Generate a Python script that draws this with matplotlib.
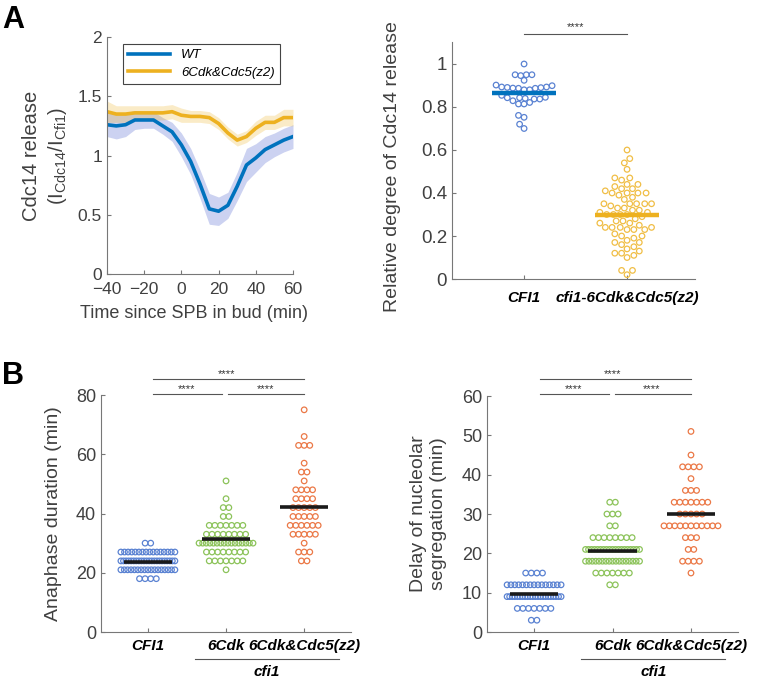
import numpy as np
import matplotlib.pyplot as plt

plt.rcParams['font.family'] = ['Liberation Sans', 'DejaVu Sans']
plt.rcParams['mathtext.fontset'] = 'custom'
plt.rcParams['mathtext.rm'] = 'Liberation Sans'
plt.rcParams['mathtext.it'] = 'Liberation Sans:italic'

# ---- panel A, left: Cdc14 release over time
time_min = [-40, -35, -30, -25, -20, -15, -10, -5, 0, 5, 10, 15, 20, 25, 30, 35, 40, 45, 50, 55, 60]
wt_mean = [1.26, 1.25, 1.26, 1.30, 1.30, 1.30, 1.25, 1.20, 1.09, 0.95, 0.76, 0.55, 0.53, 0.58, 0.74, 0.92, 0.98, 1.05, 1.09, 1.13, 1.16]
wt_sem = [0.10, 0.11, 0.10, 0.08, 0.07, 0.07, 0.07, 0.08, 0.10, 0.11, 0.12, 0.13, 0.12, 0.11, 0.12, 0.14, 0.12, 0.11, 0.10, 0.10, 0.10]
z2_mean = [1.37, 1.35, 1.35, 1.36, 1.36, 1.36, 1.36, 1.37, 1.34, 1.33, 1.33, 1.32, 1.27, 1.19, 1.13, 1.16, 1.23, 1.28, 1.28, 1.32, 1.32]
z2_sem = [0.09, 0.07, 0.07, 0.06, 0.06, 0.06, 0.06, 0.06, 0.06, 0.05, 0.05, 0.05, 0.05, 0.05, 0.05, 0.05, 0.06, 0.06, 0.06, 0.07, 0.07]

# ---- panel A, right: relative degree of release
release_labels = ['CFI1', 'cfi1-6Cdk&Cdc5(z2)']
release_cfi1 = [1.00, 0.950, 0.946, 0.950, 0.950, 0.924, 0.902, 0.893, 0.890, 0.891, 0.887, 0.893,
                0.899, 0.888, 0.887, 0.880, 0.880, 0.829, 0.837, 0.843, 0.845, 0.840, 0.837, 0.854,
                0.843, 0.814, 0.814, 0.821, 0.752, 0.761, 0.720, 0.700]
release_z2 = [0.60, 0.56, 0.54, 0.51, 0.47, 0.47, 0.46, 0.44, 0.44, 0.43, 0.42, 0.42, 0.41,
              0.40, 0.40, 0.40, 0.40, 0.39, 0.38, 0.37, 0.35, 0.35, 0.35, 0.35, 0.35, 0.34, 0.33, 0.33,
              0.32, 0.32, 0.31, 0.31, 0.30, 0.30, 0.30, 0.30, 0.29, 0.28, 0.27, 0.27, 0.26, 0.26, 0.25,
              0.24, 0.24, 0.24, 0.24, 0.23, 0.23, 0.23, 0.21, 0.20, 0.20, 0.19, 0.18, 0.17, 0.17, 0.16,
              0.15, 0.14, 0.13, 0.12, 0.12, 0.11, 0.10, 0.04, 0.04, 0.02]

# ---- panel B: values (min) and how many cells have each value
group_labels = ['CFI1', '6Cdk', '6Cdk&Cdc5(z2)']

ana_cfi1_vals = [18, 21, 24, 27, 30]
ana_cfi1_counts = [4, 17, 22, 16, 2]
ana_6cdk_vals = [21, 24, 27, 30, 33, 36, 39, 42, 45, 51]
ana_6cdk_counts = [1, 7, 8, 16, 8, 7, 2, 2, 1, 1]
ana_z2_vals = [24, 27, 30, 33, 36, 39, 42, 45, 48, 51, 54, 57, 63, 66, 75]
ana_z2_counts = [2, 3, 1, 5, 6, 5, 5, 4, 4, 1, 2, 1, 3, 1, 1]

seg_cfi1_vals = [3, 6, 9, 12, 15]
seg_cfi1_counts = [2, 7, 22, 15, 4]
seg_6cdk_vals = [12, 15, 18, 21, 24, 27, 30, 33]
seg_6cdk_counts = [2, 7, 17, 19, 8, 2, 3, 2]
seg_z2_vals = [15, 18, 21, 24, 27, 30, 33, 36, 39, 42, 45, 51]
seg_z2_counts = [1, 4, 2, 3, 11, 5, 7, 3, 1, 4, 1, 1]

BLUE = '#0072BD'
YELLOW = '#EDB120'
pt_colors = ['#5a82d2', '#8cc35a', '#eb7846']
SPINE = '#777777'
TICK = '#404040'
DIAM = 5.6  # marker diameter in pixels


def style_axes(ax, tick_size):
    for s in ['top', 'right']:
        ax.spines[s].set_visible(False)
    for s in ['left', 'bottom']:
        ax.spines[s].set_color(SPINE)
        ax.spines[s].set_linewidth(0.8)
    ax.tick_params(direction='in', length=3, width=0.8, color=SPINE,
                   labelcolor=TICK, labelsize=tick_size)


def swarm_x(ax, center, values, diam):
    # greedy beeswarm, done in pixel space
    tr = ax.transData
    ys = np.array([tr.transform((center, v))[1] for v in values])
    cx = tr.transform((center, 0))[0]
    placed = []
    offs = np.zeros(len(values))
    for n, i in enumerate(np.argsort(ys)):
        y = ys[i]
        first = 1 if n % 2 == 0 else -1
        found = None
        for k in range(200):
            for sgn in ([0] if k == 0 else [first, -first]):
                off = sgn * k * diam * 0.2
                if all((off - px) ** 2 + (y - py) ** 2 >= diam ** 2 for px, py in placed):
                    found = off
                    break
            if found is not None:
                break
        placed.append((found, y))
        offs[i] = found
    inv = tr.inverted()
    return [inv.transform((cx + o, 0))[0] for o in offs]


def row_x(ax, center, vals, counts, diam, max_span):
    tr = ax.transData
    ppu = tr.transform((1, 0))[0] - tr.transform((0, 0))[0]
    xs, ys = [], []
    for v, n in zip(vals, counts):
        gap = diam if n < 2 else min(diam, max_span / (n - 1))
        offs = (np.arange(n) - (n - 1) / 2) * gap
        xs.extend(center + offs / ppu)
        ys.extend([v] * n)
    return xs, ys


fig = plt.figure(figsize=(7.63, 6.82), dpi=100)

# ================= A left
ax1 = fig.add_axes([0.1402, 0.5982, 0.2438, 0.3475])
t = np.array(time_min)
wm, we = np.array(wt_mean), np.array(wt_sem)
zm, ze = np.array(z2_mean), np.array(z2_sem)
ax1.fill_between(t, wm - we, wm + we, color='#8090dc', alpha=0.4, lw=0)
ax1.plot(t, wm, color=BLUE, lw=2.6, label='WT')
ax1.fill_between(t, zm - ze, zm + ze, color=YELLOW, alpha=0.25, lw=0)
ax1.plot(t, zm, color=YELLOW, lw=2.6, label='6Cdk&Cdc5(z2)')
ax1.set_xlim(-40, 60)
ax1.set_ylim(0, 2)
ax1.set_xticks([-40, -20, 0, 20, 40, 60])
ax1.set_yticks([0, 0.5, 1, 1.5, 2])
ax1.set_yticklabels(['0', '0.5', '1', '1.5', '2'])
style_axes(ax1, 12.5)
ax1.tick_params(axis='x', pad=6)
ax1.set_xlabel('Time since SPB in bud (min)', fontsize=13, color=TICK, va='center')
ax1.xaxis.set_label_coords(0.47, -0.165)
ax1.set_ylabel('Cdc14 release\n' + r'(I$_{\mathrm{Cdc14}}$/I$_{\mathrm{Cfi1}}$)',
               fontsize=14.5, color=TICK, va='center', linespacing=1.3)
ax1.yaxis.set_label_coords(-0.33, 0.5)
leg = ax1.legend(loc='upper left', bbox_to_anchor=(0.05, 1.0),
                 prop={'style': 'italic', 'size': 9.5}, handlelength=3.2,
                 fancybox=False, framealpha=1, edgecolor='#444444',
                 borderpad=0.4, labelspacing=0.4)
leg.get_frame().set_linewidth(0.8)

# ================= A right
ax2 = fig.add_axes([0.5924, 0.5909, 0.3185, 0.3468])
ax2.set_xlim(0.3, 2.66)
ax2.set_ylim(0, 1.1)
for i, (vals, c, mc, d) in enumerate([(release_cfi1, '#5a82d2', BLUE, 5.6),
                                       (release_z2, '#f0be46', YELLOW, 6.8)]):
    xs = swarm_x(ax2, i + 1, vals, d)
    ax2.scatter(xs, vals, s=16, facecolors='none', edgecolors=c, linewidths=0.9, zorder=2)
    ax2.plot([i + 1 - 0.31, i + 1 + 0.31], [np.mean(vals)] * 2, color=mc, lw=3.2,
             solid_capstyle='butt', zorder=3)
ax2.set_xticks([1, 2])
ax2.set_xticklabels(release_labels)
ax2.set_yticks([0, 0.2, 0.4, 0.6, 0.8, 1.0])
ax2.set_yticklabels(['0', '0.2', '0.4', '0.6', '0.8', '1'])
style_axes(ax2, 13.5)
ax2.tick_params(axis='x', pad=8.5)
for lab in ax2.get_xticklabels():
    lab.set_fontweight('bold')
    lab.set_fontstyle('italic')
    lab.set_fontsize(11)
    lab.set_color('black')
ax2.set_ylabel('Relative degree of Cdc14 release', fontsize=14, color=TICK, va='center')
ax2.yaxis.set_label_coords(-0.243, 0.475)
ax2.plot([1, 2], [1.14, 1.14], color='#555555', lw=0.8, clip_on=False)
ax2.text(1.5, 1.15, '****', ha='center', va='bottom', fontsize=8, color='#333333')


# ================= B panels
def panel_b(ax, groups, ymax, yticks, ylabel, lab_x, sig_low, sig_top):
    ax.set_xlim(0.4, 3.6)
    ax.set_ylim(0, ymax)
    for i, (vals, counts) in enumerate(groups):
        xs, ys = row_x(ax, i + 1, vals, counts, DIAM, 54)
        ax.scatter(xs, ys, s=16, facecolors='none', edgecolors=pt_colors[i],
                   linewidths=0.9, zorder=2)
        mean = np.sum(np.array(vals) * np.array(counts)) / np.sum(counts)
        ax.plot([i + 1 - 0.31, i + 1 + 0.31], [mean, mean], color='#1a1a1a', lw=2.6,
                solid_capstyle='butt', zorder=3)
    ax.set_xticks([1, 2, 3])
    ax.set_xticklabels(group_labels)
    ax.set_yticks(yticks)
    style_axes(ax, 13)
    ax.tick_params(axis='x', pad=5)
    for lab in ax.get_xticklabels():
        lab.set_fontweight('bold')
        lab.set_fontstyle('italic')
        lab.set_fontsize(11)
        lab.set_color('black')
    ax.set_ylabel(ylabel, fontsize=14, color=TICK, va='center', linespacing=1.3)
    ax.yaxis.set_label_coords(lab_x, 0.5)
    sig = dict(color='#555555', lw=0.8, clip_on=False)
    ax.plot([1.07, 1.95], [sig_low] * 2, **sig)
    ax.plot([2.03, 3.0], [sig_low] * 2, **sig)
    ax.plot([1.07, 3.0], [sig_top] * 2, **sig)
    for xc, yc in [(1.5, sig_low), (2.5, sig_low), (2.0, sig_top)]:
        ax.text(xc, yc, '****', ha='center', va='bottom', fontsize=8, color='#333333')
    tx = ax.get_xaxis_transform()
    ax.plot([1.6, 3.44], [-0.114, -0.114], color='#555555', lw=0.8, transform=tx, clip_on=False)
    ax.text(2.52, -0.17, 'cfi1', transform=tx, ha='center', va='center',
            fontsize=11, fontweight='bold', fontstyle='italic')


ax3 = fig.add_axes([0.1324, 0.0733, 0.3277, 0.3475])
panel_b(ax3, [(ana_cfi1_vals, ana_cfi1_counts), (ana_6cdk_vals, ana_6cdk_counts),
              (ana_z2_vals, ana_z2_counts)],
        80, [0, 20, 40, 60, 80], 'Anaphase duration (min)', -0.192, 80.4, 85.4)

ax4 = fig.add_axes([0.6383, 0.0733, 0.329, 0.346])
panel_b(ax4, [(seg_cfi1_vals, seg_cfi1_counts), (seg_6cdk_vals, seg_6cdk_counts),
              (seg_z2_vals, seg_z2_counts)],
        60, [0, 10, 20, 30, 40, 50, 60], 'Delay of nucleolar\nsegregation (min)', -0.233, 60.4, 64.3)

fig.text(0.003, 0.992, 'A', fontsize=22, fontweight='bold', va='top', ha='left')
fig.text(0.003, 0.470, 'B', fontsize=22, fontweight='bold', va='top', ha='left')

fig.savefig('out.png', dpi=100)
